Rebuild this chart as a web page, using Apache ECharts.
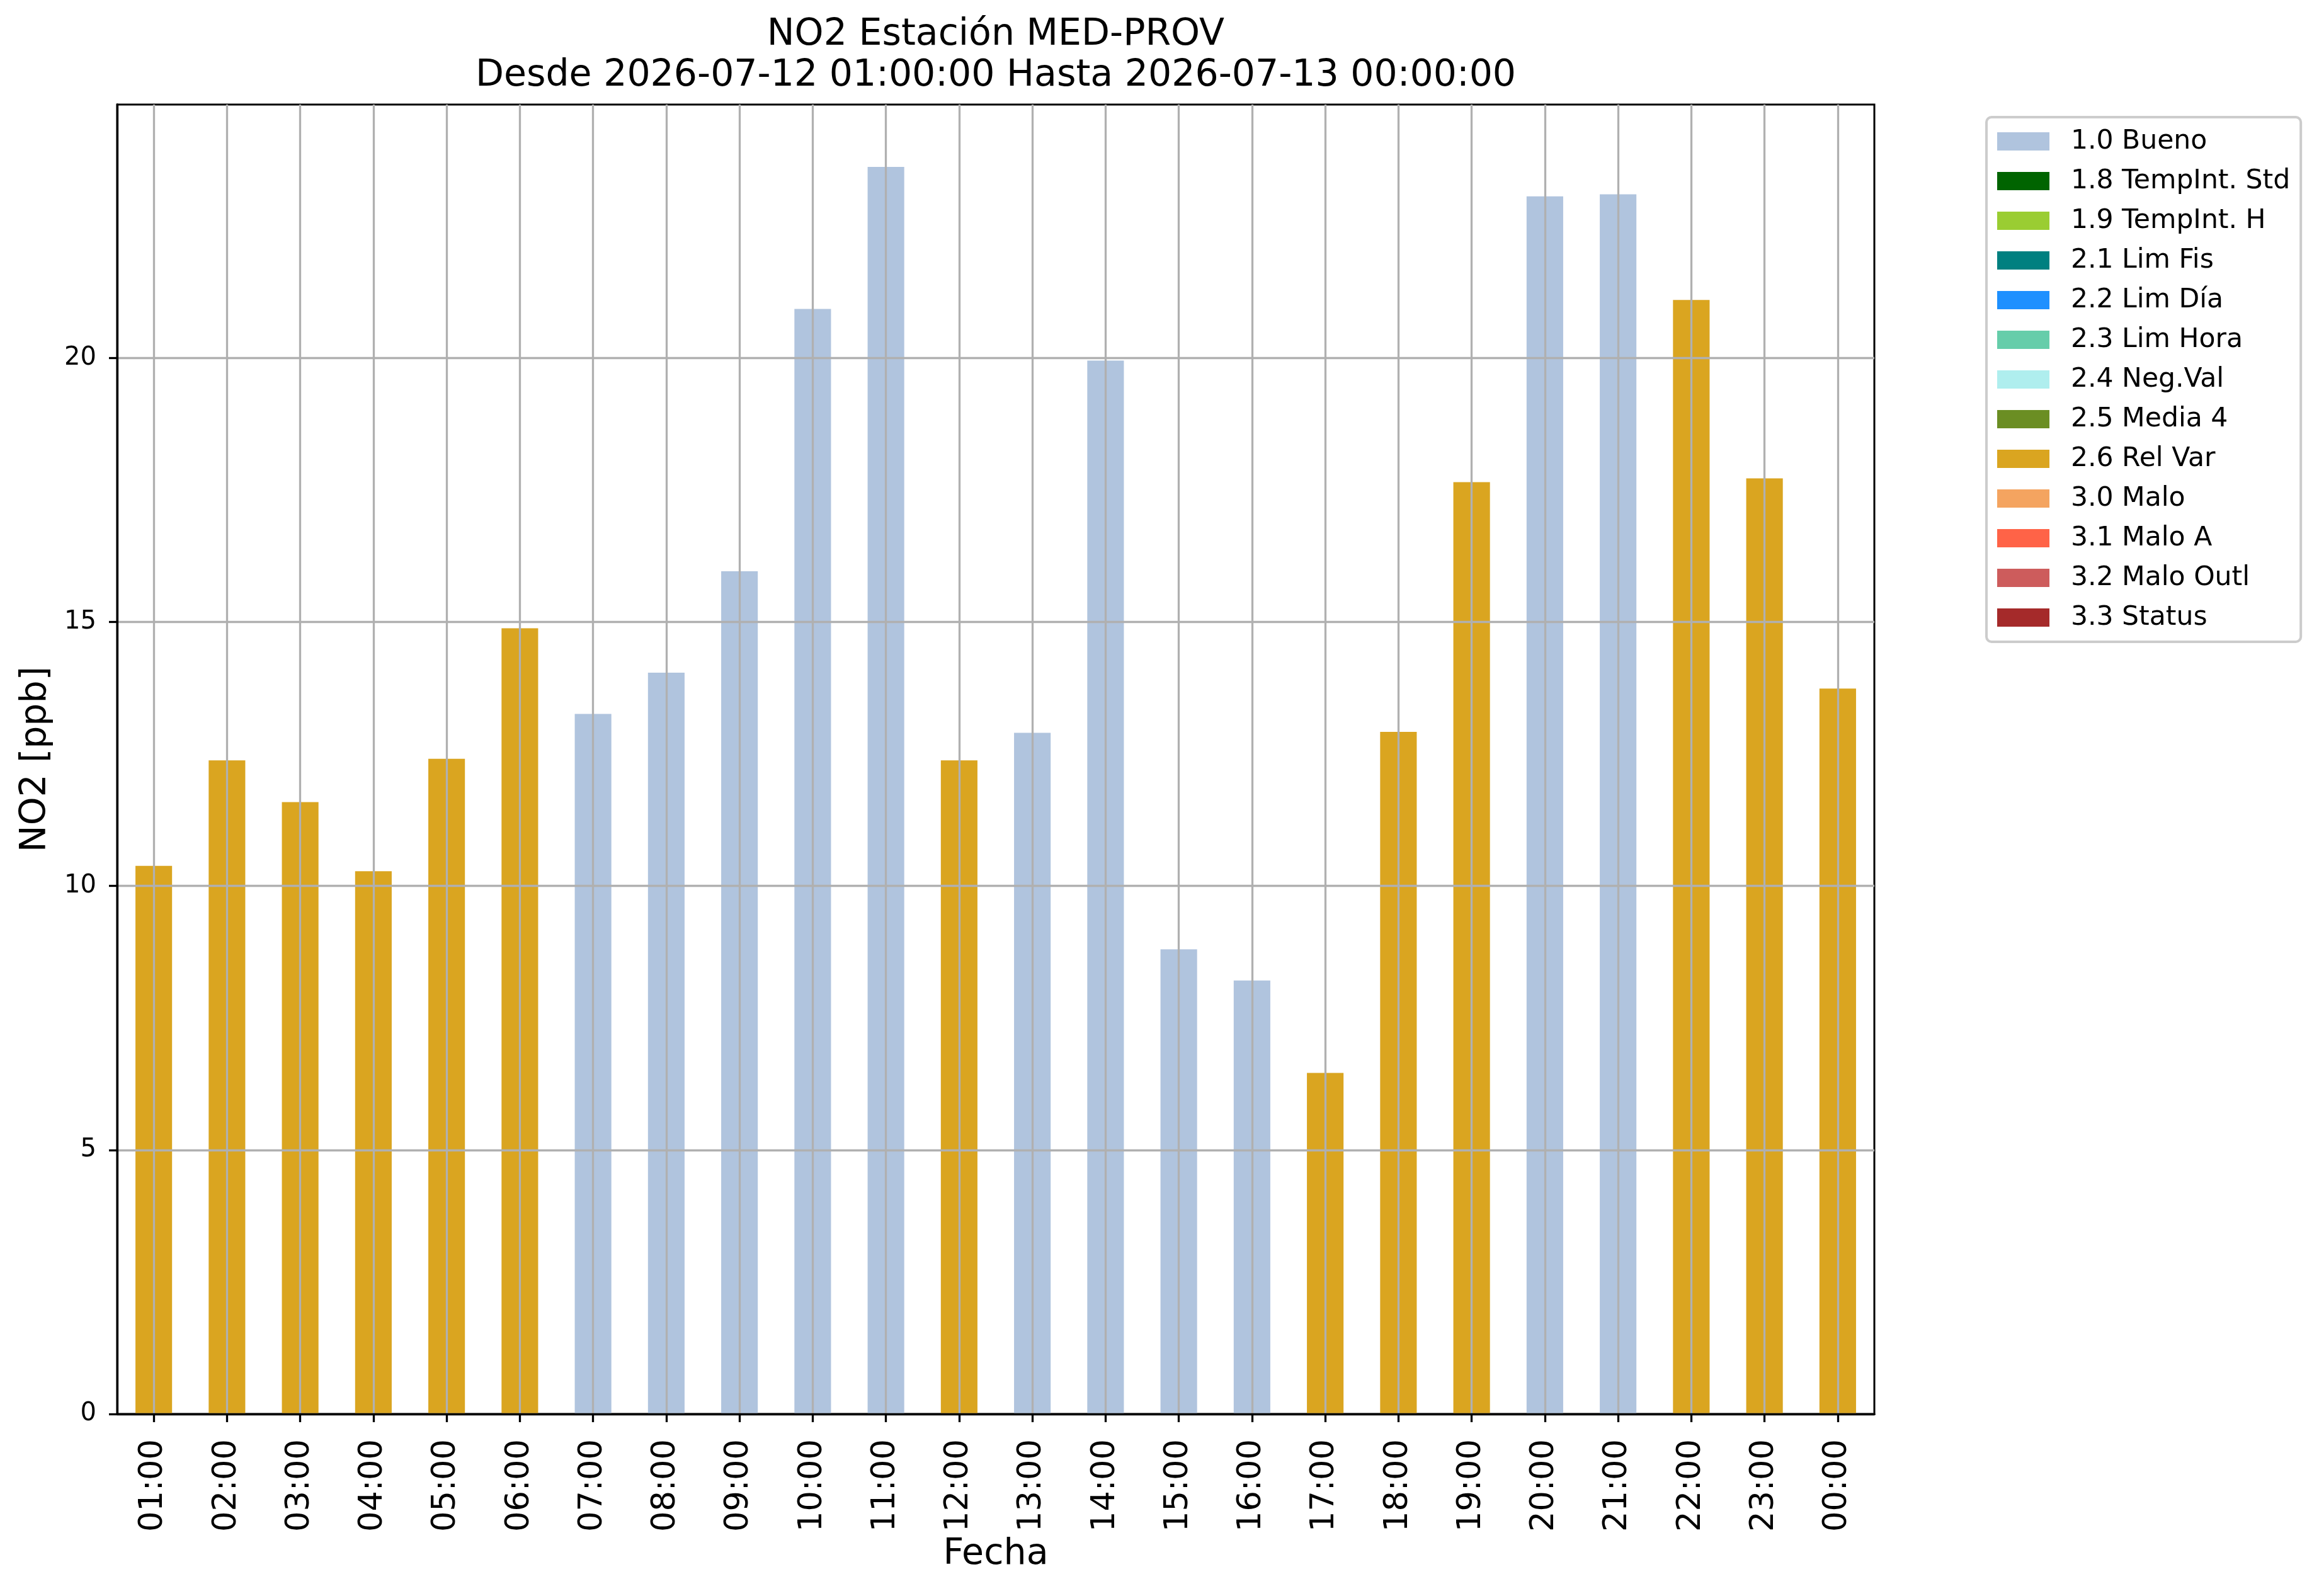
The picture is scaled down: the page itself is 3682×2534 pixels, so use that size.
<!DOCTYPE html>
<html>
<head>
<meta charset="utf-8">
<script src="https://cdn.jsdelivr.net/npm/echarts@6/dist/echarts.min.js"></script>
<style>
    html, body { margin: 0; padding: 0; background: #fff; }
    #chart { width: 3682px; height: 2534px; }
</style>
</head>
<body>
<div id="chart"></div>
<script>
// horas del periodo
const horas = ['01:00', '02:00', '03:00', '04:00', '05:00', '06:00', '07:00', '08:00',
    '09:00', '10:00', '11:00', '12:00', '13:00', '14:00', '15:00', '16:00',
    '17:00', '18:00', '19:00', '20:00', '21:00', '22:00', '23:00', '00:00'];

// valores NO2 [ppb]
const no2 = [10.38, 12.38, 11.59, 10.28, 12.41, 14.88, 13.26, 14.04,
    15.96, 20.93, 23.62, 12.38, 12.90, 19.95, 8.80, 8.21,
    6.46, 12.92, 17.65, 23.06, 23.10, 21.10, 17.72, 13.74];

// bandera de validacion de cada hora
const flagHora = ['2.6 Rel Var', '2.6 Rel Var', '2.6 Rel Var', '2.6 Rel Var', '2.6 Rel Var', '2.6 Rel Var',
    '1.0 Bueno', '1.0 Bueno', '1.0 Bueno', '1.0 Bueno', '1.0 Bueno', '2.6 Rel Var',
    '1.0 Bueno', '1.0 Bueno', '1.0 Bueno', '1.0 Bueno', '2.6 Rel Var', '2.6 Rel Var',
    '2.6 Rel Var', '1.0 Bueno', '1.0 Bueno', '2.6 Rel Var', '2.6 Rel Var', '2.6 Rel Var'];

// leyenda de banderas
const flags = ['1.0 Bueno', '1.8 TempInt. Std', '1.9 TempInt. H', '2.1 Lim Fis', '2.2 Lim Día',
    '2.3 Lim Hora', '2.4 Neg.Val', '2.5 Media 4', '2.6 Rel Var', '3.0 Malo',
    '3.1 Malo A', '3.2 Malo Outl', '3.3 Status'];
const coloresFlag = ['#B0C4DE', '#006400', '#9ACD32', '#008080', '#1E90FF',
    '#66CDAA', '#AFEEEE', '#6B8E23', '#DAA520', '#F4A460',
    '#FF6347', '#CD5C5C', '#A52A2A'];

const yTicks = [0, 5, 10, 15, 20];

const FONT = 'DejaVu Sans';

const chart = echarts.init(document.getElementById('chart'), null, { renderer: 'canvas' });

// una serie por bandera, apiladas para compartir la misma barra
const series = flags.map((f, i) => ({
    name: f,
    type: 'bar',
    stack: 'flag',
    barWidth: '50%',
    itemStyle: { color: coloresFlag[i] },
    data: no2.map((v, j) => (flagHora[j] === f ? v : '-')),
}));

const option = {
    backgroundColor: '#ffffff',
    animation: false,
    textStyle: { fontFamily: FONT },
    title: {
        text: 'NO2 Estación MED-PROV\nDesde 2026-07-12 01:00:00 Hasta 2026-07-13 00:00:00',
        left: 1581,
        top: 23,
        padding: 0,
        textAlign: 'center',
        textStyle: {
            fontFamily: FONT,
            fontSize: 58.5,
            fontWeight: 'normal',
            lineHeight: 65,
            color: '#000',
        },
    },
    legend: {
        orient: 'vertical',
        left: 3154,
        top: 186,
        padding: [17, 17, 17, 17],
        itemWidth: 83,
        itemHeight: 29,
        itemGap: 20,
        icon: 'rect',
        backgroundColor: 'rgba(255,255,255,0.8)',
        borderColor: '#cccccc',
        borderWidth: 4,
        borderRadius: 8,
        textStyle: {
            fontFamily: FONT,
            fontSize: 42.5,
            lineHeight: 40,
            color: '#000',
            padding: [0, 0, 0, 29],
        },
        data: flags,
    },
    grid: {
        left: 186,
        right: 706,
        top: 166,
        bottom: 289,
        show: true,
        borderColor: '#000',
        borderWidth: 3,
        backgroundColor: '#fff',
    },
    xAxis: {
        type: 'category',
        data: horas,
        z: 5,
        name: 'Fecha',
        nameLocation: 'middle',
        nameGap: 192,
        nameTextStyle: { fontFamily: FONT, fontSize: 57, color: '#000' },
        axisLine: { show: true, lineStyle: { color: '#000', width: 3.3 } },
        axisTick: { show: true, alignWithLabel: true, length: 13, lineStyle: { color: '#000', width: 3.3 } },
        axisLabel: {
            rotate: 90,
            interval: 0,
            margin: 40,
            fontFamily: FONT,
            fontSize: 51,
            color: '#000',
        },
        splitLine: { show: true, alignWithLabel: true, lineStyle: { color: '#b0b0b0', width: 3.3 } },
    },
    yAxis: {
        type: 'value',
        min: 0,
        max: 24.8,
        interval: 5,
        z: 5,
        name: 'NO2 [ppb]',
        nameLocation: 'middle',
        nameGap: 100,
        nameTextStyle: { fontFamily: FONT, fontSize: 57, color: '#000' },
        axisLine: { show: true, lineStyle: { color: '#000', width: 3.3 } },
        axisTick: { show: true, length: 13, customValues: yTicks, lineStyle: { color: '#000', width: 3.3 } },
        axisLabel: { margin: 33, customValues: yTicks, fontFamily: FONT, fontSize: 40, color: '#000' },
        splitLine: { show: true, lineStyle: { color: '#b0b0b0', width: 3.3 } },
    },
    series: series,
};

chart.setOption(option);
</script>
</body>
</html>
